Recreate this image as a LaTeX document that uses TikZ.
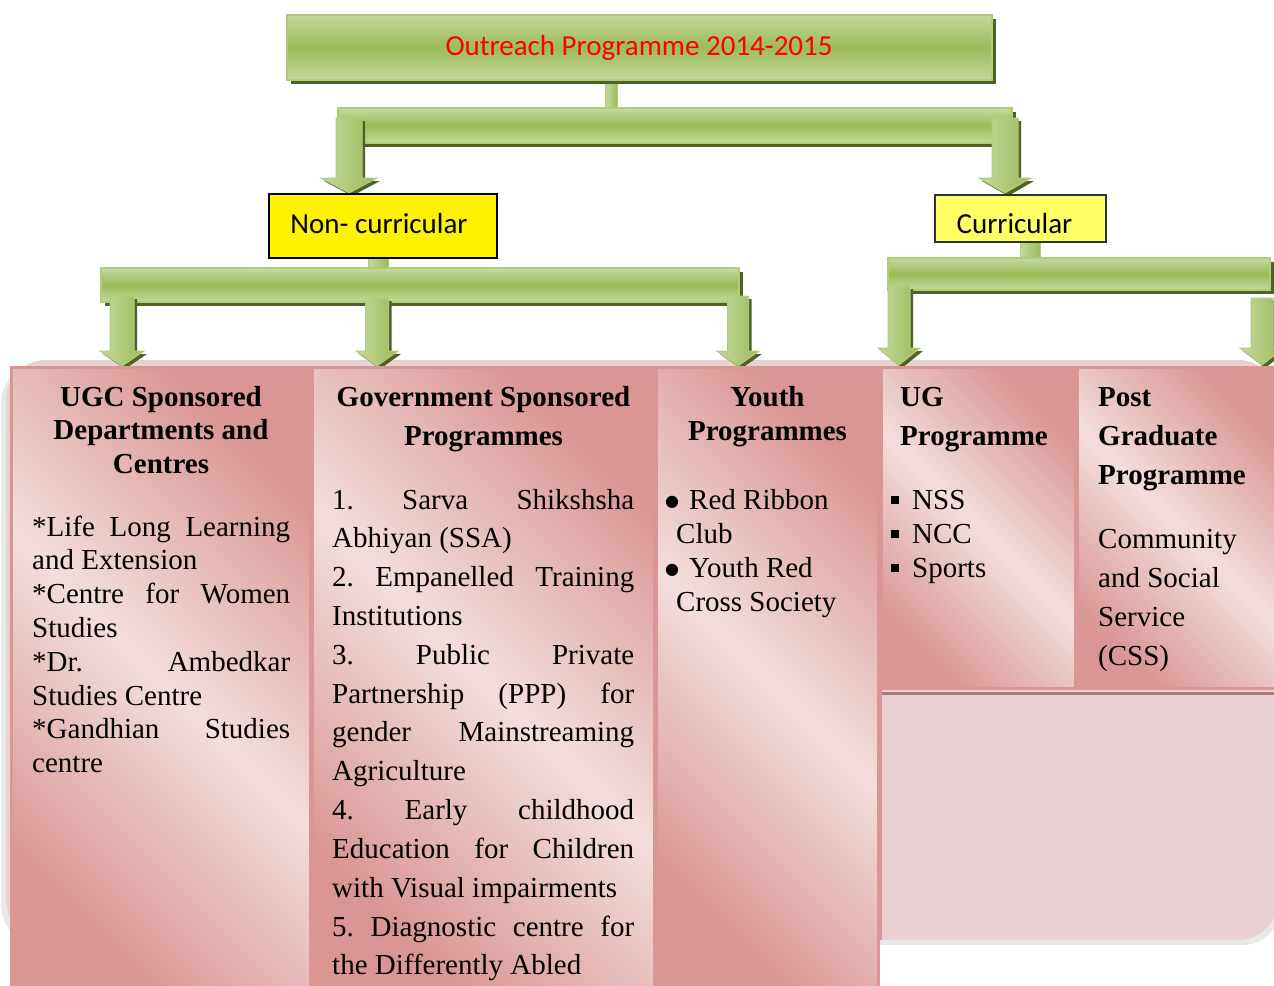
\documentclass[tikz,border=0pt]{standalone}
\usepackage{fontspec}
\setmainfont{Liberation Serif}
\newfontfamily\calib{Carlito}
\newfontfamily\djv{DejaVu Sans}
\usetikzlibrary{calc,shadows}

\definecolor{gLight}{RGB}{197,216,158}
\definecolor{gMid}{RGB}{155,187,89}
\definecolor{gShadowC}{RGB}{79,98,40}
\definecolor{gBorder}{RGB}{176,203,124}
\definecolor{pinkD}{RGB}{217,150,148}
\definecolor{pinkL}{RGB}{243,222,221}
\definecolor{lowFill}{RGB}{232,208,211}
\definecolor{lowLine}{RGB}{166,121,123}
\definecolor{yelB}{RGB}{255,255,102}

\pgfdeclarehorizontalshading{pinkdiag}{100bp}{color(0bp)=(pinkD); color(25bp)=(pinkD); color(50bp)=(pinkL); color(75bp)=(pinkD); color(100bp)=(pinkD)}

\newcommand\jline[1]{\makebox[\linewidth][s]{#1}}
\newcommand\sqbul{\rule[5pt]{8pt}{8pt}}
\newcommand\rbul{\raisebox{3pt}{\djv\fontsize{16}{16}\selectfont ●}}

\newcommand\blockarr[6]{%
  \path[#6] ($(#1)+(-#3,0)$) -- ($(#2)+(-#3,-#5)$) -- ($(#2)+(-#4,-#5)$) -- (#2)
    -- ($(#2)+(#4,-#5)$) -- ($(#2)+(#3,-#5)$) -- ($(#1)+(#3,0)$) -- cycle;}
\newcommand\garrow[5]{%
  \begin{scope}[transform canvas={shift={(3pt,-3pt)}}]
    \blockarr{#1}{#2}{#3}{#4}{#5}{fill=gShadowC}
  \end{scope}
  \blockarr{#1}{#2}{#3}{#4}{#5}{left color=gLight, right color=gMid, draw=gBorder, line width=1}}

\tikzset{
  gbox/.style={draw=gBorder, line width=1.5, top color=gLight, bottom color=gLight,
    middle color=gMid, inner sep=0,
    drop shadow={shadow xshift=4pt, shadow yshift=-4pt, fill=gShadowC, opacity=1}},
  stem/.style={left color=gLight, right color=gMid, draw=gBorder, line width=0.8},
  ybox/.style={line width=1.6, inner sep=0},
  cell/.style={shading=pinkdiag, shading angle=45, draw=pinkD, line width=2},
  cal/.style={font=\calib\fontsize{29}{35}\selectfont, inner sep=0, anchor=base},
  txt/.style={inner sep=0, anchor=base west},
  hdr/.style={inner sep=0, anchor=base},
}

\begin{document}
\begin{tikzpicture}[x=1pt,y=-1pt]
\useasboundingbox (0,0) rectangle (1274,985);
\clip (0,0) rectangle (1274,985);

% stems
\coordinate (s0a) at (605,78);   \coordinate (s0b) at (617,112);
\coordinate (s1a) at (368,256);  \coordinate (s1b) at (388,272);
\coordinate (s2a) at (1020,240); \coordinate (s2b) at (1040,261);
\shade[stem] (s0a) rectangle (s0b);
\shade[stem] (s1a) rectangle (s1b);
\shade[stem] (s2a) rectangle (s2b);

% green boxes and bars
\node[gbox, minimum width=705, minimum height=65] (top) at (639.5,47.5) {};
\node[gbox, minimum width=674, minimum height=35] (bar1) at (675,125.5) {};
\node[gbox, minimum width=638, minimum height=34] (bar2) at (420,285) {};
\node[gbox, minimum width=382, minimum height=32] (bar3) at (1079,274) {};

% arrows from first bar
\coordinate (aNs) at (349,118);  \coordinate (aNt) at (349,193);
\coordinate (aCs) at (1005,118); \coordinate (aCt) at (1005,193);
\garrow{aNs}{aNt}{13}{28}{15}
\garrow{aCs}{aCt}{13}{26}{15}

% yellow boxes
\node[ybox, draw=black, fill=yellow, minimum width=228, minimum height=64] (ncur) at (383,226) {};
\node[ybox, draw=black!80, fill=yelB, minimum width=171, minimum height=47] (cur) at (1020.5,218.5) {};
\node[cal] (ncurt) at (379,233) {Non- curricular};
\node[cal] (curt) at (1014.5,233) {Curricular};
\node[cal, text=red] (title) at (639,55) {Outreach Programme 2014-2015};

% panel
\fill[black!9, rounded corners=40] (1,363) rectangle (1282,945);
\fill[lowFill, rounded corners=40] (6,360) rectangle (1278,940);

% arrows from lower bars
\coordinate (c1s) at (122,296); \coordinate (c1t) at (122,366);
\coordinate (c2s) at (377,298); \coordinate (c2t) at (377,366);
\coordinate (c3s) at (738,296); \coordinate (c3t) at (738,366);
\coordinate (d1s) at (899,286); \coordinate (d1t) at (899,365);
\coordinate (d2s) at (1262,298); \coordinate (d2t) at (1262,365);
\garrow{c1s}{c1t}{12}{22}{15}
\garrow{c2s}{c2t}{11.5}{21}{15}
\garrow{c3s}{c3t}{10.5}{21}{15}
\garrow{d1s}{d1t}{11}{21}{17}
\garrow{d2s}{d2t}{11}{22}{17}

% table
\fill[pinkD] (10,366) rectangle (880,990);
\fill[pinkD] (880,366) rectangle (1280,690);
\shade[cell] (12,368) rectangle (310,990);
\shade[cell] (313,368) rectangle (654,990);
\shade[cell] (657,368) rectangle (878,990);
\shade[cell] (882,368) rectangle (1075,688);
\shade[cell] (1078,368) rectangle (1280,688);
\draw[lowLine, line width=3] (881,693.5) -- (1280,693.5);
\draw[pinkD, line width=2.5] (881,690) -- (881,940);

% column 1
\node[hdr] (h1) at (161,406) {\parbox[t]{290pt}{\centering\bfseries\fontsize{29}{33.5}\selectfont
  UGC Sponsored\\Departments and\\Centres}};
\node[txt] (b1) at (32,536) {\parbox[t]{258pt}{\fontsize{29}{33.8}\selectfont\frenchspacing
  \jline{*Life Long Learning}\\
  and Extension\\
  \jline{*Centre for Women}\\
  Studies\\
  \jline{*Dr. Ambedkar}\\
  Studies Centre\\
  \jline{*Gandhian Studies}\\
  centre}};

% column 2
\node[hdr] (h2) at (483.5,406) {\parbox[t]{330pt}{\centering\bfseries\fontsize{29}{39}\selectfont
  Government Sponsored\\Programmes}};
\node[txt] (b2) at (332,509) {\parbox[t]{302pt}{\fontsize{29}{38.83}\selectfont\frenchspacing
  \jline{1. Sarva Shikshsha}\\
  Abhiyan (SSA)\\
  \jline{2. Empanelled Training}\\
  Institutions\\
  \jline{3. Public Private}\\
  \jline{Partnership (PPP) for}\\
  \jline{gender Mainstreaming}\\
  Agriculture\\
  \jline{4. Early childhood}\\
  \jline{Education for Children}\\
  with Visual impairments\\
  \jline{5. Diagnostic centre for}\\
  the Differently Abled}};

% column 3
\node[hdr] (h3) at (767.5,406) {\parbox[t]{215pt}{\centering\bfseries\fontsize{29}{34}\selectfont
  Youth\\Programmes}};
\node[txt] (b3) at (665,509) {\parbox[t]{210pt}{\fontsize{29}{34.3}\selectfont
  \makebox[24pt][l]{\rbul}Red Ribbon\\
  \hspace*{11pt}Club\\
  \makebox[24pt][l]{\rbul}Youth Red\\
  \hspace*{11pt}Cross Society}};

% column 4
\node[txt] (h4) at (900,406) {\parbox[t]{170pt}{\bfseries\fontsize{29}{39}\selectfont
  UG\\Programme}};
\node[txt] (b4) at (891,509) {\parbox[t]{180pt}{\fontsize{29}{34}\selectfont
  \makebox[21pt][l]{\sqbul}NSS\\
  \makebox[21pt][l]{\sqbul}NCC\\
  \makebox[21pt][l]{\sqbul}Sports}};

% column 5
\node[txt] (h5) at (1098,406) {\parbox[t]{170pt}{\bfseries\fontsize{29}{39}\selectfont
  Post\\Graduate\\Programme}};
\node[txt] (b5) at (1098,548) {\parbox[t]{170pt}{\fontsize{29}{39}\selectfont
  Community\\and Social\\Service\\(CSS)}};
\end{tikzpicture}
\end{document}
